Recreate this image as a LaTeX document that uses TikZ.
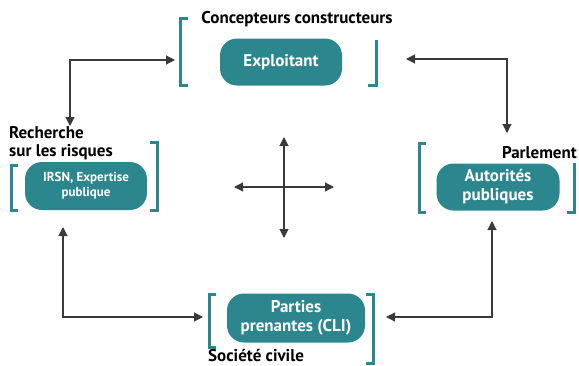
\documentclass[tikz,border=0pt]{standalone}
\usepackage{fontspec}
\setmainfont{PT Sans}
\usetikzlibrary{arrows.meta}
\definecolor{teal1}{HTML}{2B878D}
\definecolor{lin}{HTML}{3A3A3A}
\tikzset{
  actor/.style={fill=teal1, rounded corners=17pt, text=white, font=\bfseries\fontsize{17}{19}\selectfont, align=center, inner sep=0pt},
  brk/.style={draw=teal1, line width=3pt},
  lbl/.style={font=\bfseries\fontsize{17}{18}\selectfont, text=black, inner sep=0pt},
  conn/.style={draw=lin, line width=1.1pt, {Triangle[length=9pt,width=9pt]}-{Triangle[length=9pt,width=9pt]}},
}
\begin{document}
\begin{tikzpicture}[x=1pt,y=-1pt]
\useasboundingbox (0,0) rectangle (579,365);
% boxes
\node[actor, minimum width=122pt, minimum height=47pt] (expl) at (281,62) {Exploitant};
\node[actor, minimum width=122pt, minimum height=48pt, font=\bfseries\fontsize{13}{15}\selectfont] (irsn) at (86,186) {IRSN, Expertise\\publique};
\node[actor, minimum width=123pt, minimum height=47pt] (auto) at (498,187) {Autorités\\publiques};
\node[actor, minimum width=138pt, minimum height=49pt] (cli) at (296,318) {Parties\\prenantes (CLI)};
% labels
\node[lbl] (conc) at (297,19) {Concepteurs constructeurs};
\node[lbl, align=left, anchor=north west] (rech) at (9,126) {Recherche\\sur les risques};
\node[lbl, anchor=east] (parl) at (577,153) {Parlement};
\node[lbl, anchor=west] (soc) at (208,355) {Société civile};
% brackets
\draw[brk] (188,18) -- (180,18) -- (180,85) -- (188,85);
\draw[brk] (376,40) -- (376,85) -- (368,85);
\draw[brk] (18,165) -- (11,165) -- (11,210) -- (18,210);
\draw[brk] (150,142) -- (157,142) -- (157,210) -- (150,210);
\draw[brk] (426,143) -- (419,143) -- (419,212) -- (426,212);
\draw[brk] (574,163) -- (574,212) -- (567,212);
\draw[brk] (216,294) -- (209,294) -- (209,347) -- (216,347);
\draw[brk] (366,294) -- (373,294) -- (373,363) -- (366,363);
% connector ends
\coordinate (tlA) at (70,126);
\coordinate (tlB) at (175,60);
\coordinate (trA) at (406,59);
\coordinate (trB) at (507,133);
\coordinate (blA) at (63,227);
\coordinate (blB) at (203,317);
\coordinate (brA) at (492,221);
\coordinate (brB) at (386,317);
\draw[conn] (tlA) |- (tlB);
\draw[conn] (trA) -| (trB);
\draw[conn] (blA) |- (blB);
\draw[conn] (brA) |- (brB);
% cross
\coordinate (cx) at (284,187);
\coordinate (cl) at (234,187);
\coordinate (cr) at (334,187);
\coordinate (ct) at (284,137);
\coordinate (cb) at (284,238);
\draw[conn] (cl) -- (cr);
\draw[conn] (ct) -- (cb);
\end{tikzpicture}
\end{document}
